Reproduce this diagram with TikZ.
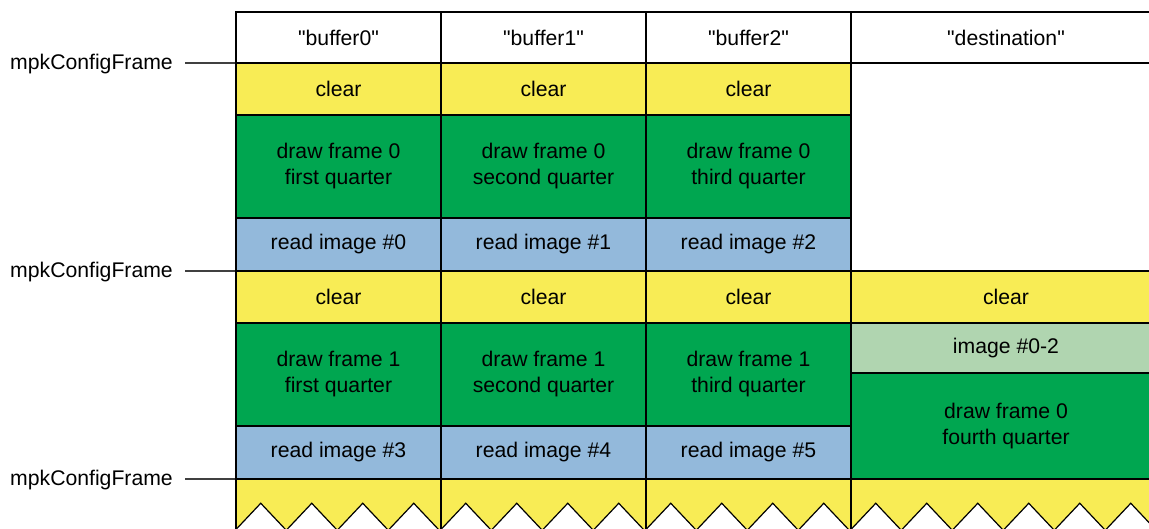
\documentclass[tikz,border=0pt]{standalone}
\usepackage{fontspec}
\setmainfont{Liberation Sans}[Ligatures=TeXOff]
\usetikzlibrary{positioning}
\definecolor{clearyellow}{HTML}{F8EC55}
\definecolor{drawgreen}{HTML}{00A650}
\definecolor{readblue}{HTML}{93B9DB}
\definecolor{imagegreen}{HTML}{B0D5B0}

\begin{document}
\begin{tikzpicture}[x=1pt, y=-1pt,
  every node/.style={font=\fontsize{21.2}{26}\selectfont},
  cell/.style={draw, rectangle, line width=1.5pt, inner sep=0pt, align=center, minimum width=205pt},
  header/.style={cell, fill=white, minimum height=51pt},
  clearbox/.style={cell, fill=clearyellow, minimum height=52pt},
  framebox/.style={cell, fill=drawgreen, minimum height=103pt},
  readbox/.style={cell, fill=readblue, minimum height=53pt},
  imagebox/.style={cell, fill=imagegreen, minimum height=50pt},
  marker/.style={draw=black!75, line width=1.3pt},
  zigzag/.style={fill=white, draw=black, line width=1.2pt},
]

\useasboundingbox (0,0) rectangle (1149,529);
\clip (0,0) rectangle (1149,529);

\foreach [evaluate={\x=338.5+205*\c}] \c in {0,1,2} {
  \node (hd\c) [header] at (\x, 37.5) {"buffer\c"};
}
\node (hd3) [header, minimum width=310pt] at (1006, 37.5) {"destination"};

\foreach \f/\y in {0/63, 1/271} {
  \foreach [evaluate={\x=338.5+205*\c; \n=int(3*\f+\c)}] \c/\q in {0/first, 1/second, 2/third} {
    \node (clr\f\c) [clearbox] at (\x, \y+26) {clear};
    \node (drw\f\c) [framebox] at (\x, \y+103.5) {draw frame \f\\\q{} quarter};
    \node (rd\f\c) [readbox] at (\x, \y+181.5) {read image \#\n};
  }
}

\node (dclr) [clearbox, minimum width=310pt] at (1006, 297) {clear};
\node (dimg) [imagebox, minimum width=310pt] at (1006, 348) {image \#0-2};
\node (ddrw) [framebox, minimum width=310pt, minimum height=106pt] at (1006, 426) {draw frame 0\\fourth quarter};

\foreach [evaluate={\x=338.5+205*\c}] \c in {0,1,2} {
  \node (nxt\c) [clearbox, minimum height=70pt] at (\x, 514) {};
}
\node (nxt3) [clearbox, minimum width=310pt, minimum height=70pt] at (1006, 514) {};

\foreach \c/\k in {0/4, 1/4, 2/4, 3/6} {
  \path (nxt\c.north west) ++(0,52) coordinate (zz\c);
  \filldraw[zigzag] (zz\c) \foreach \i in {1,...,\k} { -- ++(25.5,-27) -- ++(25.5,27) } -- cycle;
}

\foreach \i/\y/\r in {0/63/clr00, 1/271/clr10, 2/479/nxt0} {
  \node (cf\i) [anchor=east, inner sep=0pt] at (173, \y+1) {mpkConfigFrame};
  \coordinate (cl\i) at (185, \y);
  \draw[marker] (cl\i) -- (cl\i -| \r.west);
}
\end{tikzpicture}
\end{document}
